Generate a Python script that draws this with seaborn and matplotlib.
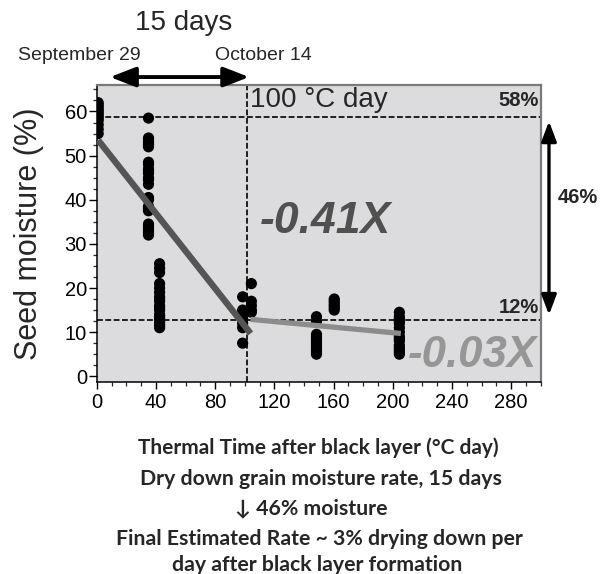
import matplotlib
matplotlib.use("Agg")
import matplotlib.pyplot as plt
import seaborn as sns
import pandas as pd
from matplotlib.ticker import MultipleLocator

sns.set_style("ticks")
plt.rcParams['font.family'] = ['Liberation Sans', 'DejaVu Sans']

# ---- data ----
x_g1 = 1.0
y_g1 = [62, 61.5, 61, 60.5, 60, 59.5, 59, 58.5, 58, 57, 56, 55]
x_g2 = 35.0
y_g2 = [58.5, 54, 53.5, 53, 52.5, 52, 48.5, 48, 47, 46.5, 46, 45, 44.5, 43.5,
        40.5, 40, 38.5, 38, 37.5, 34.5, 34, 33.5, 33, 32.5, 32]
x_g3 = 42.5
y_g3 = [25.5, 24.5, 23.5, 21, 20, 19, 18, 17.5, 17, 16, 15.5, 15, 14, 13.5,
        13, 12.5, 12, 11.5, 11]
x_g4 = 98.6
y_g4 = [18, 15, 14, 13, 12, 11, 7.5]
x_g5 = 104.5
y_g5 = [21, 17, 16, 15, 14.5]
x_g6 = 148.5
y_g6 = [13.5, 12.5, 9.5, 9, 8.5, 8, 7.5, 7, 6.5, 6, 5.5, 5]
x_g7 = 160.5
y_g7 = [17.5, 17, 16.5, 16, 15.5, 15]
x_g8 = 204.5
y_g8 = [14.5, 13.5, 13, 12.5, 12, 11, 10, 9, 8.5, 8, 7, 6.5, 6, 5.5, 5]

fit1_x = [1, 104]
fit1_y = [53.5, 9.7]
fit2_x = [104, 205.5]
fit2_y = [12.9, 9.7]

ref_x = 101.5
ref_y_high = 58.7
ref_y_low = 12.8

xticks = [0, 40, 80, 120, 160, 200, 240, 280]
yticks = [0, 10, 20, 30, 40, 50, 60]

groups = [(x_g1, y_g1), (x_g2, y_g2), (x_g3, y_g3), (x_g4, y_g4),
          (x_g5, y_g5), (x_g6, y_g6), (x_g7, y_g7), (x_g8, y_g8)]
rows = [(gx, v) for gx, ys in groups for v in ys]
df = pd.DataFrame(rows, columns=["thermal", "moisture"])
fit1 = pd.DataFrame({"x": fit1_x, "y": fit1_y})
fit2 = pd.DataFrame({"x": fit2_x, "y": fit2_y})

W, H = 608, 574
fig = plt.figure(figsize=(W / 100, H / 100), dpi=100)
ax = fig.add_axes([96.7 / W, 1 - 382 / H, 444 / W, 297 / H])
ax.set_facecolor('#dcdcde')

ax.axvline(ref_x, color='black', lw=1.2, dashes=(3.5, 1.5), zorder=1)
ax.axhline(ref_y_high, color='black', lw=1.2, dashes=(3.5, 1.5), zorder=1)
ax.axhline(ref_y_low, color='black', lw=1.2, dashes=(3.5, 1.5), zorder=1)

sns.scatterplot(data=df, x="thermal", y="moisture", color='black', s=65,
                edgecolor='none', ax=ax, zorder=3)
sns.lineplot(data=fit1, x="x", y="y", color='#555555', lw=4.6, ax=ax,
             zorder=4, solid_capstyle='butt')
sns.lineplot(data=fit2, x="x", y="y", color='#8c8c8c', lw=3.8, ax=ax,
             zorder=4, solid_capstyle='butt')

ax.set_xlim(0, 300)
ax.set_ylim(-1.3, 66)
ax.set_xticks(xticks)
ax.set_yticks(yticks)
ax.xaxis.set_minor_locator(MultipleLocator(10))
ax.yaxis.set_minor_locator(MultipleLocator(2.5))
ax.tick_params(axis='both', which='major', labelsize=14.5, width=1.0,
               color='black', labelcolor='black')
ax.tick_params(axis='x', which='major', length=5, pad=3)
ax.tick_params(axis='y', which='major', length=6, pad=1)
ax.tick_params(axis='x', which='minor', length=2.7, width=0.9)
ax.tick_params(axis='y', which='minor', length=3, width=0.9)

for s in ['left', 'bottom']:
    ax.spines[s].set_color('black')
    ax.spines[s].set_linewidth(1.1)
for s in ['top', 'right']:
    ax.spines[s].set_color('#7a7a7a')
    ax.spines[s].set_linewidth(1.6)

ax.set_xlabel('')
ax.set_ylabel('Seed moisture (%)', fontsize=22)
ax.yaxis.set_label_coords((44 - 96.7) / 444, 0.5)

# annotations inside plot
ax.text(103.6, 62.6, '100 °C day', fontsize=20, ha='left', va='center', zorder=5)
ax.text(154.6, 35.0, '-0.41X', fontsize=32, fontweight='bold', fontstyle='italic',
        color='#505050', ha='center', va='center', zorder=5)
ax.text(253.6, 4.8, '-0.03X', fontsize=31.5, fontweight='bold', fontstyle='italic',
        color='#969696', ha='center', va='center', zorder=5)
ax.text(298.8, 62.6, '58%', fontsize=14.5, fontweight='bold', ha='right',
        va='center', zorder=5)
ax.text(298.8, 15.5, '12%', fontsize=14.5, fontweight='bold', ha='right',
        va='center', zorder=5)
ax.text(311.5, 40.4, '46%', fontsize=14.5, fontweight='bold', ha='left',
        va='center', zorder=5, clip_on=False)

ax.annotate('', xy=(305.6, 57.8), xytext=(305.6, 13.9),
            arrowprops=dict(arrowstyle='<|-|>,head_length=1.2,head_width=0.45',
                            mutation_scale=10, lw=2.4, color='black',
                            shrinkA=0, shrinkB=0),
            annotation_clip=False)
ax.annotate('', xy=(9, 67.8), xytext=(103, 67.8),
            arrowprops=dict(arrowstyle='<|-|>,head_length=1.55,head_width=0.6',
                            mutation_scale=10, lw=2.8, color='black',
                            shrinkA=0, shrinkB=0),
            annotation_clip=False)

def ftext(px, py, s, **kw):
    fig.text(px / W, 1 - py / H, s, ha='center', va='center', **kw)

ftext(184, 23, '15 days', fontsize=20)
ftext(79, 56, 'September 29', fontsize=14)
ftext(263, 56, 'October 14', fontsize=14)

bold_fam = ['Lato', 'DejaVu Sans']
ftext(318, 448, 'Thermal Time after black layer (°C day)', fontsize=15,
      fontweight='bold', family=bold_fam)
ftext(321, 479, 'Dry down grain moisture rate, 15 days', fontsize=15.3,
      fontweight='bold', family=bold_fam)
ftext(311, 508, '↓ 46% moisture', fontsize=15.3, fontweight='bold',
      family=bold_fam)
ftext(319, 539, 'Final Estimated Rate ~ 3% drying down per', fontsize=15.3,
      fontweight='bold', family=bold_fam)
ftext(317, 565, 'day after black layer formation', fontsize=15.3,
      fontweight='bold', family=bold_fam)

fig.savefig('out.png', dpi=100)
